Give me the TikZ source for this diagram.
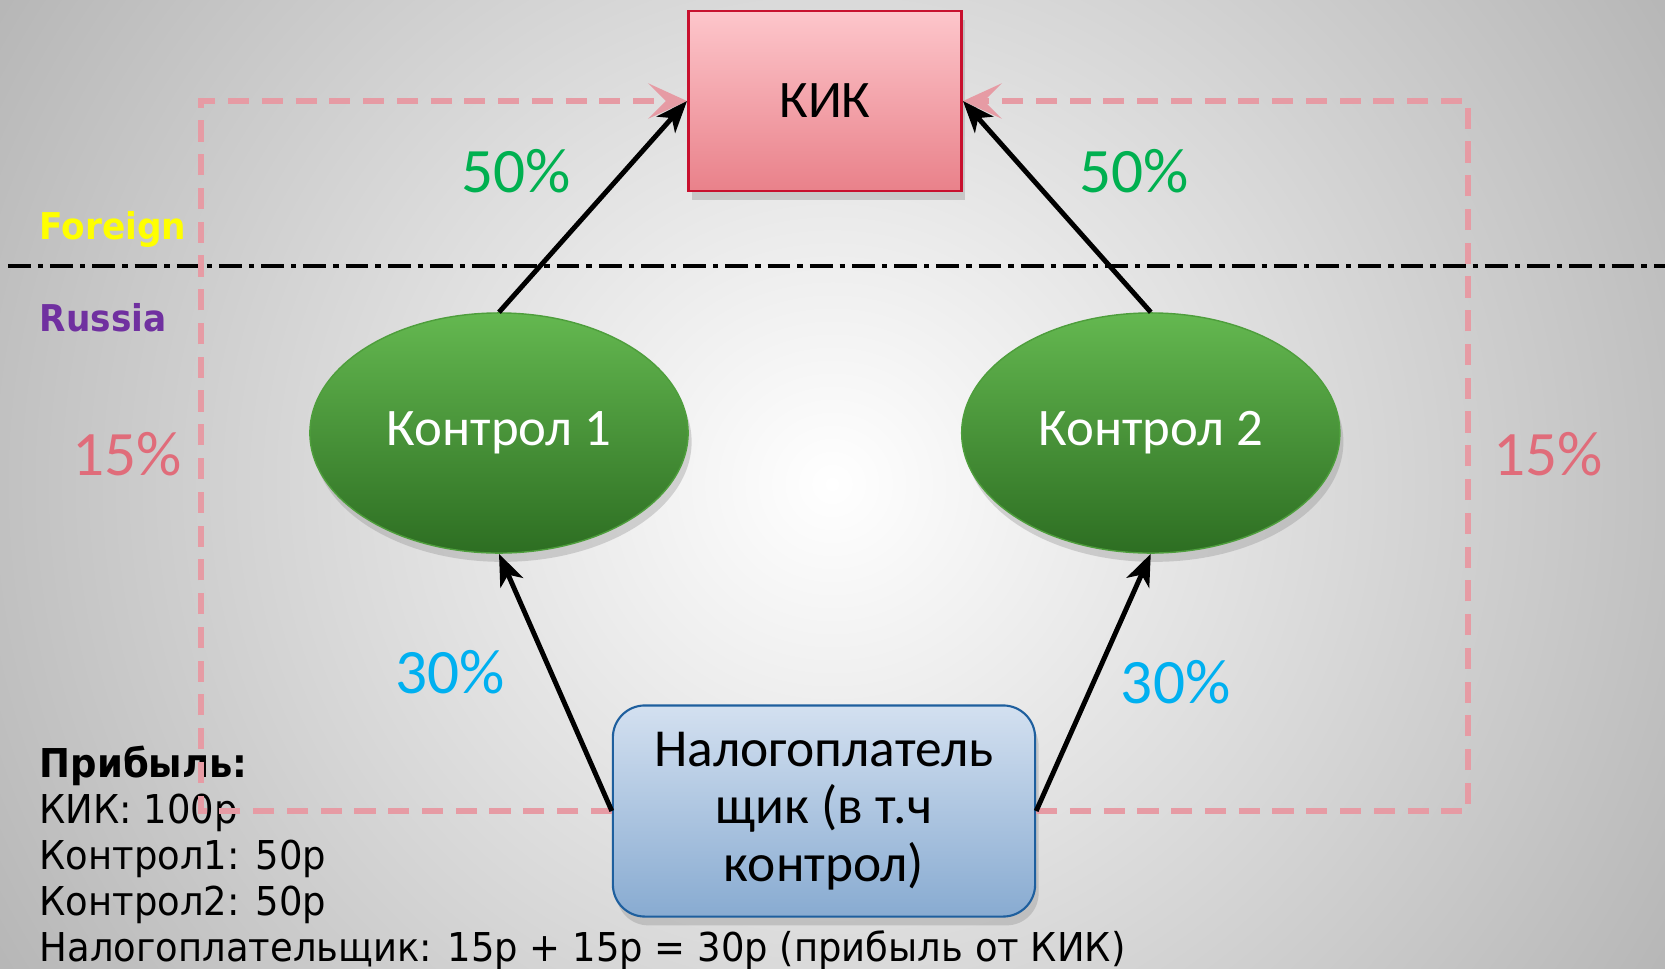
\documentclass[tikz,border=0pt]{standalone}
\usepackage{fontspec}
\setmainfont{Carlito}
\newfontfamily\verdanafont[FakeStretch=0.93]{DejaVu Sans}
\usepackage{tikz}
\usetikzlibrary{
    shapes.geometric, % For ellipse
    arrows.meta,      % For Stealth arrowheads
    positioning,      % For right=of placement
    shadows           % For drop shadows
}
\definecolor{kiktop}{RGB}{253,198,203}
\definecolor{kikbottom}{RGB}{233,129,138}
\definecolor{kikborder}{RGB}{200,16,46}
\definecolor{ctrltop}{RGB}{100,184,80}
\definecolor{ctrlbottom}{RGB}{45,110,34}
\definecolor{ctrlborder}{RGB}{78,158,60}
\definecolor{taxtop}{RGB}{211,224,240}
\definecolor{taxbottom}{RGB}{136,171,209}
\definecolor{taxborder}{RGB}{30,95,158}
\definecolor{pctgreen}{RGB}{0,176,80}
\definecolor{pctblue}{RGB}{0,176,240}
\definecolor{pctpink}{RGB}{224,108,122}
\definecolor{flowpink}{RGB}{230,155,164}
\definecolor{foreignyellow}{RGB}{255,255,0}
\definecolor{russiapurple}{RGB}{112,48,160}
\tikzset{
  % Style for the foreign company box
  kikbox/.style={
    rectangle, draw=kikborder, thick, top color=kiktop, bottom color=kikbottom,
    minimum width=2.73cm, minimum height=1.80cm, text centered,
    font=\fontsize{15}{18}\selectfont,
    drop shadow={opacity=0.3, shadow xshift=1pt, shadow yshift=-2.5pt}
  },
  % Style for the controlling persons
  ctrl/.style={
    ellipse, draw=ctrlborder, top color=ctrltop, bottom color=ctrlbottom,
    minimum width=3.78cm, minimum height=2.40cm, inner sep=0pt, text=white,
    font=\fontsize{15}{18}\selectfont,
    drop shadow={opacity=0.3, shadow xshift=1pt, shadow yshift=-2.5pt}
  },
  % Style for the taxpayer box
  taxbox/.style={
    rectangle, rounded corners=0.32cm, draw=taxborder, semithick,
    top color=taxtop, bottom color=taxbottom,
    minimum width=4.22cm, minimum height=2.11cm, align=center,
    font=\fontsize{15.2}{16.4}\selectfont,
    drop shadow={opacity=0.3, shadow xshift=1pt, shadow yshift=-2.5pt}
  },
  % Style for percentage labels
  pct/.style={inner sep=0pt, font=\fontsize{18}{20}\selectfont},
  % Style for ownership arrows
  arrow/.style={
    -{Stealth[length=9pt, width=7pt, inset=2.5pt]}, line width=1.4pt
  },
  % Style for the dashed profit flow
  flow/.style={
    -{Stealth[length=11pt, width=10pt, inset=5pt]}, draw=flowpink,
    line width=1.5pt, dash pattern=on 6pt off 3.6pt
  },
  % Style for the border line
  border/.style={line width=1pt, dash pattern=on 6.5pt off 2pt on 1.5pt off 2pt},
  % Style for the side labels
  side/.style={anchor=west, inner sep=0pt, font=\verdanafont\bfseries\fontsize{10.5}{12}\selectfont}
}

\begin{document}
\begin{tikzpicture}[x=0.01cm, y=-0.01cm]
    \useasboundingbox (0,0) rectangle (1665,969);
    \begin{scope}
        \clip (0,0) rectangle (1665,969);
        \shade[inner color=white, outer color=gray!65] (-278,-596) rectangle (1942,1564);
    \end{scope}

    \draw[border] (8,266) -- (1665,266);
    \node (foreign) [side, text=foreignyellow] at (39,229) {Foreign};
    \node (russia) [side, text=russiapurple] at (39,318) {Russia};

    \node (kik) [kikbox] at (825,101) {КИК};
    \node (ctrl1) [ctrl] at (499,433) {Контрол 1};
    \node (ctrl2) [ctrl, right=2.72cm of ctrl1] {Контрол 2};
    \node (tax) [taxbox] at (824,811) {Налогоплатель\\щик (в т.ч\\контрол)};

    \node (profit) [anchor=north west, align=left, inner sep=0pt,
        font=\verdanafont\fontsize{11.3}{13.1}\selectfont] at (39,745)
        {\textbf{Прибыль:}\\КИК: 100р\\Контрол1: 50р\\Контрол2: 50р\\Налогоплательщик: 15р + 15р = 30р (прибыль от КИК)};

    \coordinate (cornerL) at (201,101);
    \coordinate (cornerR) at (1468,101);
    \draw[flow] (tax.west) -| (cornerL) -- (kik.west);
    \draw[flow] (tax.east) -| (cornerR) -- (kik.east);
    \node (shareL) [pct, text=pctpink] at (127,454) {15\%};
    \node (shareR) [pct, text=pctpink] at (1548,454) {15\%};

    \draw[arrow] (ctrl1.north) -- node[pct, midway, left=0.2cm, yshift=10pt, text=pctgreen] {50\%} (kik.west);
    \draw[arrow] (ctrl2.north) -- node[pct, midway, right=0.2cm, yshift=10pt, text=pctgreen] {50\%} (kik.east);
    \draw[arrow] (tax.west) -- node[pct, midway, left=0.48cm, yshift=3pt, text=pctblue] {30\%} (ctrl1.south);
    \draw[arrow] (tax.east) -- node[pct, midway, right=0.25cm, text=pctblue] {30\%} (ctrl2.south);

\end{tikzpicture}
\end{document}
